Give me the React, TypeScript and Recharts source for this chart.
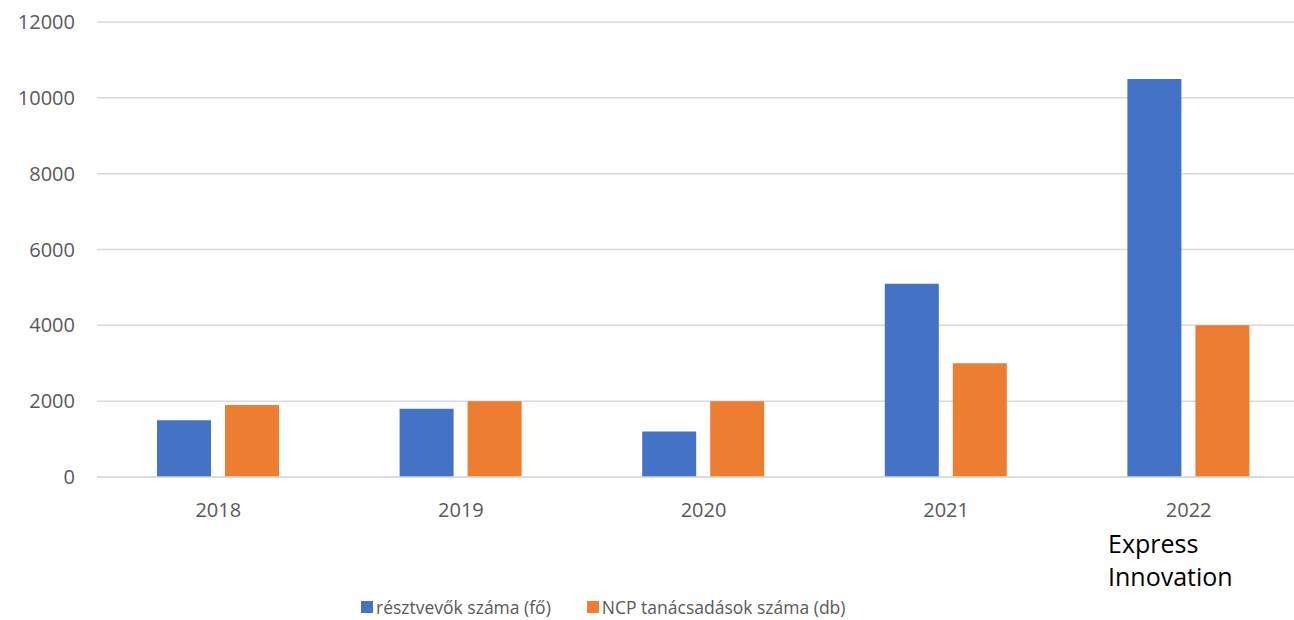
import React from 'react';
import { BarChart, Bar, XAxis, YAxis, CartesianGrid } from 'recharts';

const years = ['2018', '2019', '2020', '2021', '2022'];
const participants = [1500, 1800, 1200, 5100, 10500];
const consultations = [1900, 2000, 2000, 3000, 4000];
const yTicks = [0, 2000, 4000, 6000, 8000, 10000, 12000];
const seriesNames = ['résztvevők száma (fő)', 'NCP tanácsadások száma (db)'];
const COLORS = ['#4472C4', '#ED7D31'];

const data = years.map((year, i) => ({
  year,
  participants: participants[i],
  consultations: consultations[i],
}));

const FONT = '"Open Sans", "Noto Sans", sans-serif';

const LegendBox = () => (
  <div
    style={{
      position: 'absolute',
      left: 361,
      top: 595,
      display: 'flex',
      fontFamily: FONT,
      fontSize: 17.5,
      color: '#595959',
      whiteSpace: 'nowrap',
    }}
  >
    {seriesNames.map((name, i) => (
      <div key={name} style={{ display: 'flex', alignItems: 'center', marginRight: i === 0 ? 36 : 0 }}>
        <span style={{ display: 'inline-block', width: 12, height: 12, background: COLORS[i], marginRight: 3 }} />
        <span>{name}</span>
      </div>
    ))}
  </div>
);

const App: React.FC = () => {
  return (
    <div style={{ position: 'absolute', left: 0, top: 0, width: 1294, height: 620, overflow: 'hidden', background: '#fff' }}>
      <BarChart
        width={1320}
        height={620}
        data={data}
        margin={{ top: 22, right: 10, bottom: 113, left: 0 }}
        barCategoryGap={60}
        barGap={14}
      >
        <CartesianGrid vertical={false} stroke="#d9d9d9" strokeWidth={1.5} />
        <XAxis
          dataKey="year"
          height={30}
          axisLine={{ stroke: '#d9d9d9', strokeWidth: 1.5 }}
          tickLine={false}
          tickMargin={20}
          tick={{ fill: '#595959', fontSize: 20, fontFamily: FONT }}
        />
        <YAxis
          width={97}
          domain={[0, 12000]}
          ticks={yTicks}
          axisLine={false}
          tickLine={false}
          tickSize={0}
          tickMargin={22}
          tick={{ fill: '#595959', fontSize: 20, fontFamily: FONT }}
        />
        <Bar dataKey="participants" name={seriesNames[0]} fill={COLORS[0]} isAnimationActive={false} />
        <Bar dataKey="consultations" name={seriesNames[1]} fill={COLORS[1]} isAnimationActive={false} />
      </BarChart>
      <LegendBox />
      <div
        style={{
          position: 'absolute',
          left: 1108,
          top: 527,
          fontFamily: FONT,
          fontSize: 25,
          lineHeight: '33px',
          color: '#000',
        }}
      >
        Express
        <br />
        Innovation
      </div>
    </div>
  );
};

export default App;
